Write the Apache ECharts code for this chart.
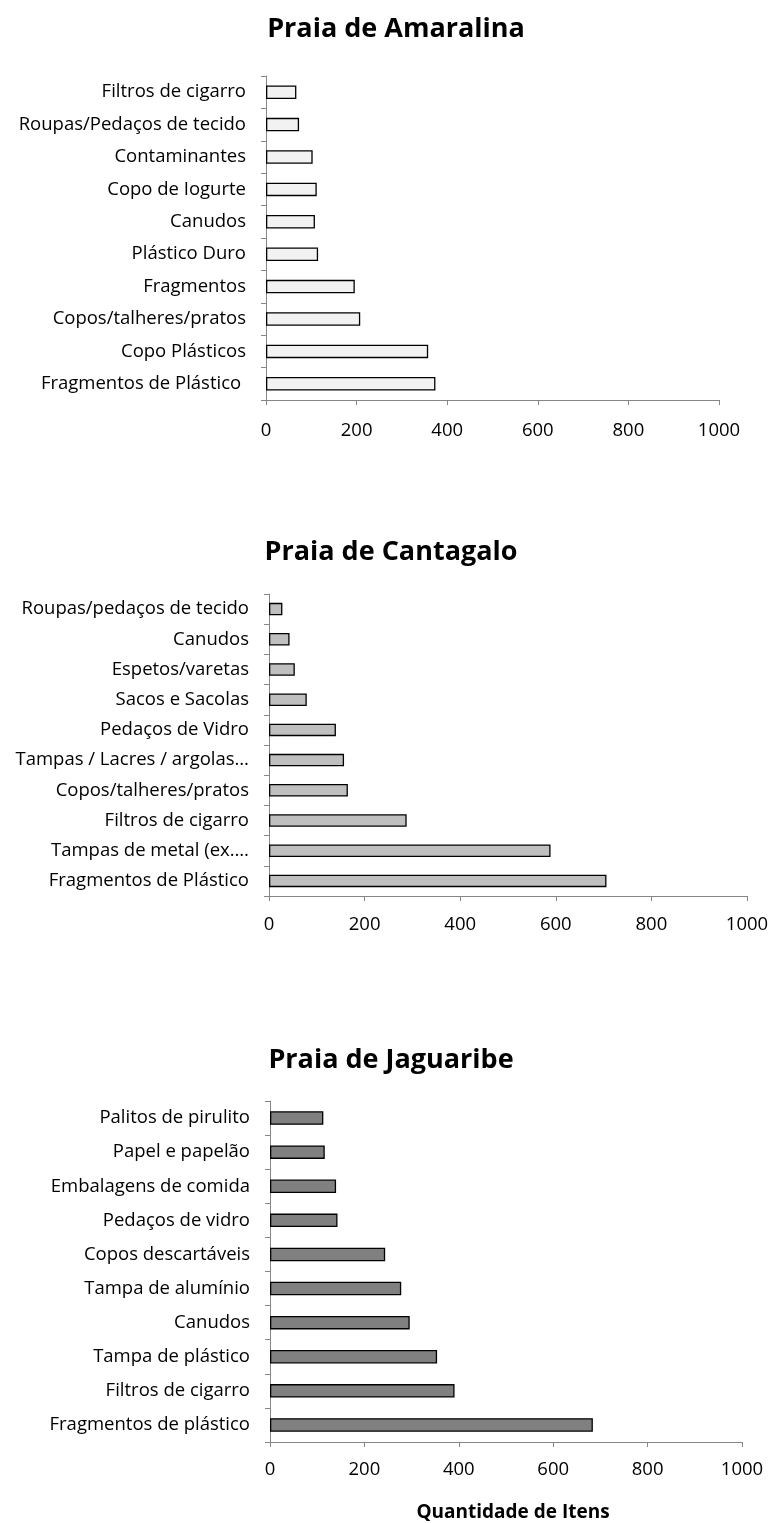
<!DOCTYPE html>
<html><head><meta charset="utf-8">
<script src="https://cdn.jsdelivr.net/npm/echarts@6/dist/echarts.min.js"></script>
<style>html,body{margin:0;padding:0;background:#fff}#c{width:772px;height:1523px}</style>
</head><body><div id="c"></div>
<script>
const titles = ['Praia de Amaralina', 'Praia de Cantagalo', 'Praia de Jaguaribe'];
const xAxisName = 'Quantidade de Itens';

const catsAmaralina = ['Filtros de cigarro', 'Roupas/Pedaços de tecido', 'Contaminantes', 'Copo de Iogurte', 'Canudos', 'Plástico Duro', 'Fragmentos', 'Copos/talheres/pratos', 'Copo Plásticos', 'Fragmentos de Plástico '];
const valsAmaralina = [67, 73, 103, 112, 108, 115, 196, 208, 358, 374];

const catsCantagalo = ['Roupas/pedaços de tecido', 'Canudos', 'Espetos/varetas', 'Sacos e Sacolas', 'Pedaços de Vidro', 'Tampas / Lacres / argolas…', 'Copos/talheres/pratos', 'Filtros de cigarro', 'Tampas de metal (ex.…', 'Fragmentos de Plástico'];
const valsCantagalo = [28, 43, 54, 79, 140, 157, 165, 288, 589, 706];

const catsJaguaribe = ['Palitos de pirulito', 'Papel e papelão', 'Embalagens de comida', 'Pedaços de vidro', 'Copos descartáveis', 'Tampa de alumínio', 'Canudos', 'Tampa de plástico', 'Filtros de cigarro', 'Fragmentos de plástico'];
const valsJaguaribe = [113, 116, 140, 143, 244, 278, 296, 354, 391, 684];

const xTicksMin = 0, xTicksMax = 1000, xTicksStep = 200;

const FONT = 'Open Sans';
const grids = [
  {left: 266, right: 53, top: 76, height: 324},
  {left: 269, right: 25, top: 594, height: 302},
  {left: 270, right: 30, top: 1101, height: 341}
];
const cats = [catsAmaralina, catsCantagalo, catsJaguaribe];
const vals = [valsAmaralina, valsCantagalo, valsJaguaribe];
const fills = ['#f2f2f2', '#bfbfbf', '#808080'];
const barW = [13.5, 12.5, 13.5];
const xLabelMargins = [21, 19, 18];
const titleTops = [11, 534, 1042];
const titleCenters = [391, 386, 386];

const option = {
  animation: false,
  backgroundColor: '#ffffff',
  title: titles.map((t, i) => ({
    text: t, left: titleCenters[i], top: titleTops[i], textAlign: 'center',
    textStyle: {fontFamily: FONT, fontSize: 27, fontWeight: 'bold', color: '#000'}
  })).concat([{
    text: xAxisName, left: 508, top: 1498, textAlign: 'center',
    textStyle: {fontFamily: FONT, fontSize: 19, fontWeight: 'bold', color: '#000'}
  }]),
  grid: grids,
  xAxis: grids.map((g, i) => ({
    type: 'value', gridIndex: i, min: xTicksMin, max: xTicksMax, interval: xTicksStep,
    axisLine: {show: true, lineStyle: {color: '#868686', width: 1}},
    axisTick: {show: true, length: 5, lineStyle: {color: '#868686'}},
    splitLine: {show: false},
    axisLabel: {fontFamily: FONT, fontSize: 18.5, color: '#000', margin: xLabelMargins[i], formatter: v => String(v)}
  })),
  yAxis: grids.map((g, i) => ({
    type: 'category', gridIndex: i, data: cats[i], inverse: true,
    axisLine: {show: true, lineStyle: {color: '#868686', width: 1}},
    axisTick: {show: true, length: 5, lineStyle: {color: '#868686'}},
    axisLabel: {fontFamily: FONT, fontSize: 18.5, color: '#000', margin: 20}
  })),
  series: vals.map((v, i) => ({
    type: 'bar', xAxisIndex: i, yAxisIndex: i, data: v, barWidth: barW[i],
    itemStyle: {color: fills[i], borderColor: '#000', borderWidth: 1.3}
  }))
};
const chart = echarts.init(document.getElementById('c'), null, {renderer: 'canvas'});
chart.setOption(option);
</script></body></html>
